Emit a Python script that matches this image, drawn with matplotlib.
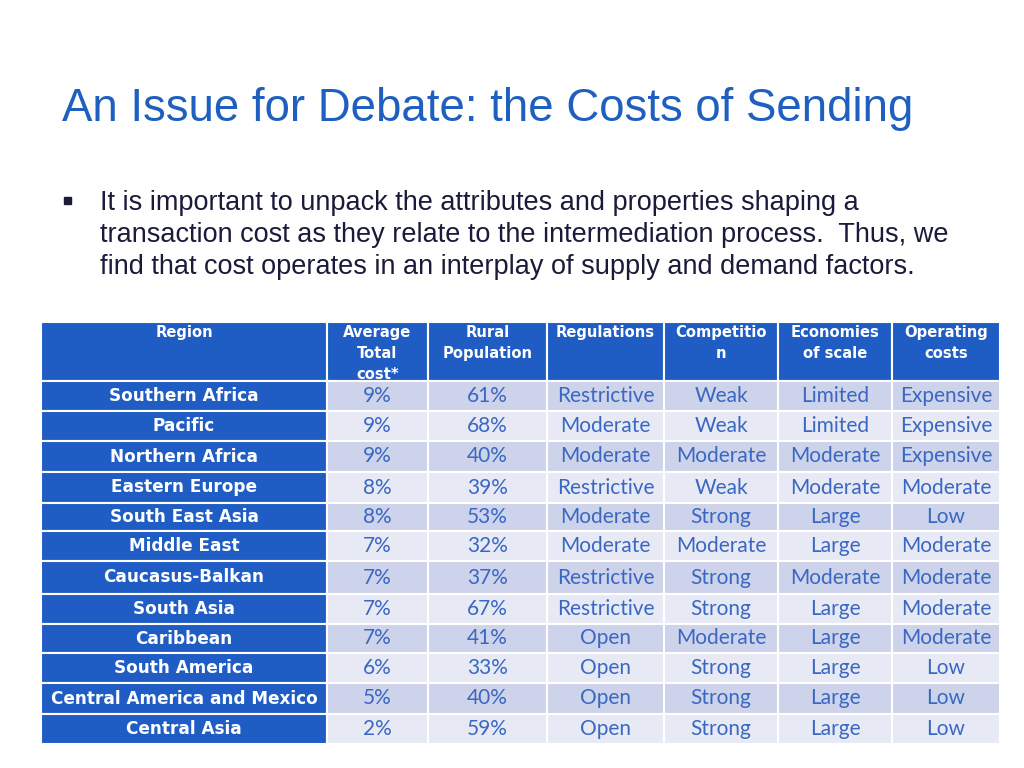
import matplotlib.pyplot as plt
from matplotlib.patches import Rectangle

# table content
headers = ["Region", "Average\nTotal\ncost*", "Rural\nPopulation", "Regulations",
           "Competitio\nn", "Economies\nof scale", "Operating\ncosts"]
regions = ["Southern Africa", "Pacific", "Northern Africa", "Eastern Europe",
           "South East Asia", "Middle East", "Caucasus-Balkan", "South Asia",
           "Caribbean", "South America", "Central America and Mexico", "Central Asia"]
avg_cost = ["9%", "9%", "9%", "8%", "8%", "7%", "7%", "7%", "7%", "6%", "5%", "2%"]
rural_pop = ["61%", "68%", "40%", "39%", "53%", "32%", "37%", "67%", "41%", "33%", "40%", "59%"]
regulations = ["Restrictive", "Moderate", "Moderate", "Restrictive", "Moderate", "Moderate",
               "Restrictive", "Restrictive", "Open", "Open", "Open", "Open"]
competition = ["Weak", "Weak", "Moderate", "Weak", "Strong", "Moderate", "Strong",
               "Strong", "Moderate", "Strong", "Strong", "Strong"]
economies = ["Limited", "Limited", "Moderate", "Moderate", "Large", "Large", "Moderate",
             "Large", "Large", "Large", "Large", "Large"]
operating = ["Expensive", "Expensive", "Expensive", "Moderate", "Low", "Moderate", "Moderate",
             "Moderate", "Moderate", "Low", "Low", "Low"]

# layout in pixels
col_edges = [41, 327, 428, 547, 664, 778, 892, 1000]
row_edges = [322, 381, 411, 441, 472, 503, 531, 561, 594, 624, 653, 683, 714, 744]

blue = "#1f5cc4"
dark_band = "#cdd3ea"
light_band = "#e7eaf5"
cell_text = "#3a67c2"

fig = plt.figure(figsize=(10.24, 7.68), dpi=100)
ax = fig.add_axes([0, 0, 1, 1])
ax.set_xlim(0, 1024)
ax.set_ylim(768, 0)
ax.axis("off")

ax.text(62, 109, "An Issue for Debate: the Costs of Sending", fontsize=32.9,
        color="#1f5fbf", family="Liberation Sans", va="center", ha="left")

bullet = ("It is important to unpack the attributes and properties shaping a\n"
          "transaction cost as they relate to the intermediation process.  Thus, we\n"
          "find that cost operates in an interplay of supply and demand factors.")
ax.add_patch(Rectangle((64, 197), 7, 7, color="#1a1a3a"))
ax.text(100, 190, bullet, fontsize=19.5, color="#1a1a3a", family="Liberation Sans",
        va="top", ha="left", linespacing=1.3)

# header
for j, h in enumerate(headers):
    x0, x1 = col_edges[j], col_edges[j + 1]
    ax.add_patch(Rectangle((x0, row_edges[0]), x1 - x0, row_edges[1] - row_edges[0],
                           facecolor=blue, edgecolor="white", lw=1.5))
    ax.text((x0 + x1) / 2, row_edges[0] + 3, h, fontsize=10.6, color="white",
            weight="bold", family="DejaVu Sans", ha="center", va="top", linespacing=1.5)

columns = [avg_cost, rural_pop, regulations, competition, economies, operating]
for i, reg in enumerate(regions):
    y0, y1 = row_edges[i + 1], row_edges[i + 2]
    yc = (y0 + y1) / 2
    ax.add_patch(Rectangle((col_edges[0], y0), col_edges[1] - col_edges[0], y1 - y0,
                           facecolor=blue, edgecolor="white", lw=1.5))
    ax.text((col_edges[0] + col_edges[1]) / 2, yc, reg, fontsize=12.2, color="white",
            weight="bold", family="DejaVu Sans", ha="center", va="center")
    band = dark_band if i % 2 == 0 else light_band
    for j, col in enumerate(columns):
        x0, x1 = col_edges[j + 1], col_edges[j + 2]
        ax.add_patch(Rectangle((x0, y0), x1 - x0, y1 - y0,
                               facecolor=band, edgecolor="white", lw=1.5))
        ax.text((x0 + x1) / 2, yc, col[i], fontsize=15, color=cell_text,
                family=["Lato", "DejaVu Sans"], ha="center", va="center")

plt.savefig("out.png", dpi=100)
